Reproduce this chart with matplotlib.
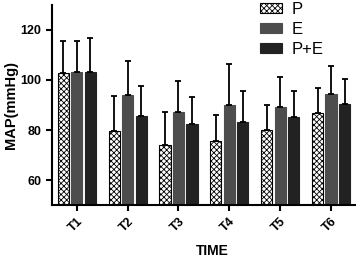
import matplotlib
matplotlib.use("Agg")
import matplotlib.pyplot as plt
import numpy as np

plt.rcParams['font.family'] = ['Liberation Sans', 'DejaVu Sans']
plt.rcParams['hatch.linewidth'] = 0.6

categories = ["T1", "T2", "T3", "T4", "T5", "T6"]
series = ["P", "E", "P+E"]
p_vals = [102.6, 79.6, 74.2, 75.5, 80.0, 87.0]
e_vals = [103.0, 94.0, 87.2, 90.2, 89.3, 94.5]
pe_vals = [103.2, 85.8, 82.6, 83.4, 85.4, 90.6]
p_err = [13.0, 14.0, 13.0, 10.5, 10.2, 10.0]
e_err = [12.7, 13.6, 12.5, 16.3, 12.0, 11.2]
pe_err = [13.4, 11.7, 10.7, 12.3, 10.2, 9.8]

fig = plt.figure(figsize=(3.6, 2.59), dpi=100)
ax = fig.add_axes([0.144, 0.208, 0.842, 0.773])

x = np.arange(len(categories))
w = 0.22
off = 0.265
styles = [
    dict(facecolor='white', edgecolor='black', hatch='xxxxxx'),
    dict(facecolor='#4d4d4d', edgecolor='#4d4d4d'),
    dict(facecolor='#222222', edgecolor='#222222'),
]
vals = [p_vals, e_vals, pe_vals]
errs = [p_err, e_err, pe_err]
for i, (v, e, st, lab) in enumerate(zip(vals, errs, styles, series)):
    xs = x + (i - 1) * off
    ax.bar(xs, v, width=w, linewidth=0.8, label=lab, zorder=2, **st)
    ax.errorbar(xs, v, yerr=[np.zeros(len(v)), e], fmt='none', ecolor='black',
                elinewidth=1.3, capsize=2.2, capthick=1.3, zorder=3)

ax.set_ylim(50, 130)
ax.set_xlim(-0.49, 5.47)
ax.set_yticks([60, 80, 100, 120])
ax.set_xticks(x)
ax.set_xticklabels(categories, rotation=45, ha='right', rotation_mode='anchor')
for s in ['top', 'right']:
    ax.spines[s].set_visible(False)
for s in ['left', 'bottom']:
    ax.spines[s].set_linewidth(1.5)
ax.tick_params(axis='both', width=1.5, length=4, labelsize=9)
for t in ax.get_xticklabels() + ax.get_yticklabels():
    t.set_fontweight('bold')
ax.set_ylabel("MAP(mmHg)", fontsize=10.5, fontweight='bold', labelpad=2)
ax.set_xlabel("TIME", fontsize=10, fontweight='bold')
ax.xaxis.set_label_coords(0.53, -0.195)

ax.legend(loc='upper left', bbox_to_anchor=(0.686, 1.015), frameon=False, fontsize=12,
          handlelength=1.35, handleheight=0.6, labelspacing=0.3, handletextpad=0.55,
          borderpad=0, borderaxespad=0)

fig.savefig("out.png", dpi=100)
